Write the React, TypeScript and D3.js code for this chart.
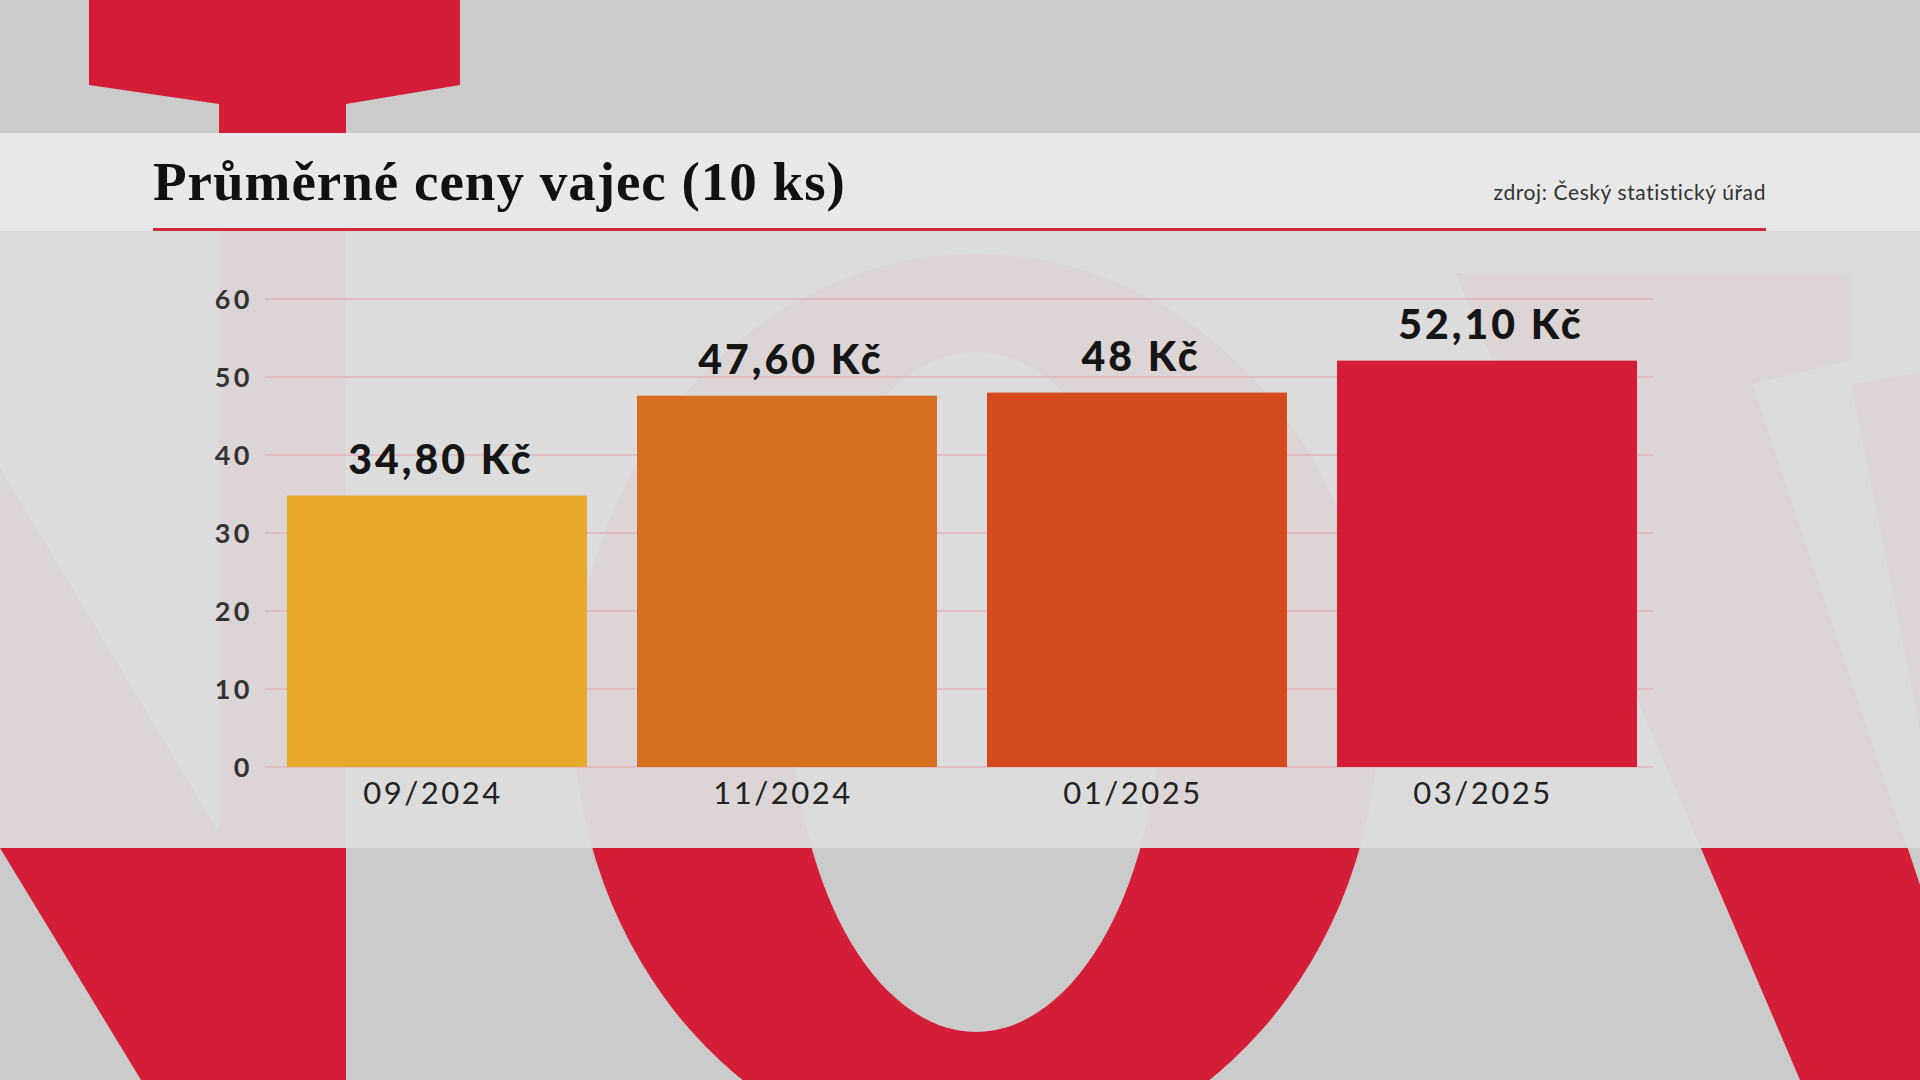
import * as React from "react";
import * as d3 from "d3";

const categories = ["09/2024", "11/2024", "01/2025", "03/2025"];
const prices = [34.8, 47.6, 48, 52.1];
const priceLabels = ["34,80 Kč", "47,60 Kč", "48 Kč", "52,10 Kč"];
const barColors = ["#e9a92a", "#d56e1f", "#d44b1f", "#d41e37"];
const yTicks = [0, 10, 20, 30, 40, 50, 60];

const title = "Průměrné ceny vajec (10 ks)";
const source = "zdroj: Český statistický úřad";

const W = 1920;
const H = 1080;
const RED = "#d41e37";

// ellipse as a closed svg path
const ellipse = (cx: number, cy: number, rx: number, ry: number) =>
    `M${cx - rx},${cy} A${rx},${ry} 0 1 0 ${cx + rx},${cy} A${rx},${ry} 0 1 0 ${cx - rx},${cy} Z`;

const Backdrop: React.FC = () => {
    const line = d3.line();
    const topShape = line([[89, 0], [460, 0], [460, 85], [346, 104], [346, H], [219, H], [219, 104], [89, 85]]);
    const diag = line([[0, 468], [219, 833], [219, H], [141, H], [0, 848]]);
    const rightA = line([[1455, 273], [1851, 273], [1851, 360], [1753, 384], [1985, H], [1800, H]]);
    const rightB = line([[1851, 384], [1920, 372], [1920, H], [1990, H]]);
    const ring = ellipse(976, 709, 403, 455) + " " + ellipse(976, 692, 185, 340);
    return (
        <g>
            <rect x={0} y={0} width={W} height={H} fill="#cbcbcb" />
            <g fill={RED}>
                <path d={topShape!} />
                <path d={diag!} />
                <path d={ring} fillRule="evenodd" />
                <path d={rightA!} />
                <path d={rightB!} />
            </g>
            {/* chart panel, almost opaque */}
            <rect x={0} y={231} width={W} height={617} fill="#dddddd" opacity={0.955} />
            {/* header band */}
            <rect x={0} y={133} width={W} height={98} fill="#e8e8e8" />
        </g>
    );
};

const App: React.FC = () => {
    const x = d3.scaleBand<string>()
        .domain(categories)
        .range([262, 1662])
        .paddingInner(0.1429)
        .paddingOuter(0.0714);

    const y = d3.scaleLinear().domain([0, 60]).range([767, 299]);

    const sans = "Lato, 'Open Sans', sans-serif";

    return (
        <svg width={W} height={H} style={{ position: "absolute", left: 0, top: 0 }}>
            <Backdrop />

            <text x={153} y={200} fontFamily="'Liberation Serif', serif" fontWeight={700}
                fontSize={55} letterSpacing={1} fill="#111">{title}</text>
            <text x={1766} y={200} textAnchor="end" fontFamily={sans} fontSize={21}
                letterSpacing={0.6} fill="#333">{source}</text>
            <rect x={153} y={228} width={1613} height={3} fill="#d0283c" />

            <g>
                {yTicks.map(t => (
                    <g key={t}>
                        <line x1={265} x2={1653} y1={y(t)} y2={y(t)} stroke="#e5b3bc" strokeWidth={1.5} />
                        <text x={253} y={y(t)} dy="0.36em" textAnchor="end" fontFamily={sans}
                            fontWeight={700} fontSize={27} letterSpacing={3.5} fill="#333">{t}</text>
                    </g>
                ))}
            </g>

            <g>
                {categories.map((c, i) => {
                    const bx = x(c)!;
                    const cx = bx + x.bandwidth() / 2;
                    return (
                        <g key={c}>
                            <rect x={bx} y={y(prices[i])} width={x.bandwidth()}
                                height={y(0) - y(prices[i])} fill={barColors[i]} />
                            <text x={cx + 4} y={y(prices[i]) - 22} textAnchor="middle" fontFamily={sans}
                                fontWeight={900} fontSize={41} letterSpacing={3} fill="#151515">{priceLabels[i]}</text>
                            <text x={cx - 4} y={804} textAnchor="middle" fontFamily={sans}
                                fontSize={31} letterSpacing={2.5} fill="#222">{c}</text>
                        </g>
                    );
                })}
            </g>
        </svg>
    );
};

export default App;
